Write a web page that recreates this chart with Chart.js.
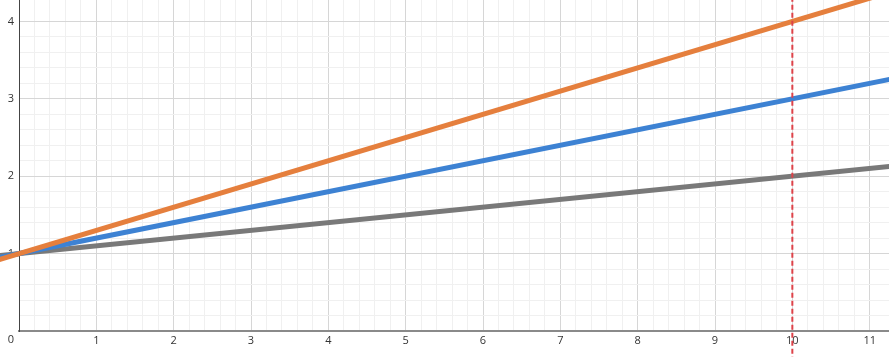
<!DOCTYPE html>
<html>
<head>
<meta charset="utf-8">
<script src="https://cdn.jsdelivr.net/npm/chart.js@4/dist/chart.umd.min.js"></script>
<style>
  html, body { margin: 0; padding: 0; background: #fff; }
  #wrap { width: 889px; height: 357px; position: relative; }
</style>
</head>
<body>
<div id="wrap"><canvas id="grafico"></canvas></div>
<script>
// --- datos ---
const lineaX = [-0.3, 11.3];
const naranjaY = [0.91, 4.39];
const azulY = [0.94, 3.26];
const grisY = [0.97, 2.13];

const marcaX = [10, 10];
const marcaY = [-0.5, 4.5];

const ejeX = { min: 0, max: 11.25, paso: 0.2 };
const ejeY = { min: 0, max: 4.277, paso: 0.2 };

const puntos = (xs, ys) => xs.map((x, i) => ({ x: x, y: ys[i] }));

const esEntero = v => Math.abs(v - Math.round(v)) < 1e-6;
const esMenor = v => Math.abs(v / 0.2 - Math.round(v / 0.2)) < 1e-6;

function colorGrilla(c) {
    const v = c.tick.value;
    if (esEntero(v)) return '#d6d6d6';
    if (esMenor(v)) return '#f0f0f0';
    return 'rgba(0,0,0,0)';
}

// sin relleno extra alrededor del area del grafico
function sinRelleno(s) {
    s.paddingTop = 0;
    s.paddingBottom = 0;
    s.paddingLeft = 0;
    s.paddingRight = 0;
}

// etiqueta del origen (esquina)
const origen = {
    id: 'origen',
    afterDraw(chart) {
        const ctx = chart.ctx;
        ctx.save();
        ctx.font = '11px "Open Sans", sans-serif';
        ctx.fillStyle = '#333';
        ctx.textAlign = 'center';
        ctx.textBaseline = 'middle';
        ctx.fillText('0', 11, 340);
        ctx.restore();
    }
};

const fondo = {
    id: 'fondo',
    beforeDraw(chart) {
        const ctx = chart.ctx;
        ctx.save();
        ctx.fillStyle = '#fff';
        ctx.fillRect(0, 0, chart.width, chart.height);
        ctx.restore();
    }
};

const comun = { showLine: true, pointRadius: 0, tension: 0, clip: false, borderCapStyle: 'butt' };

new Chart(document.getElementById('grafico'), {
    type: 'scatter',
    data: {
        datasets: [
            { ...comun, data: puntos(marcaX, marcaY), borderColor: '#de4249', borderWidth: 2, borderDash: [5, 3] },
            { ...comun, data: puntos(lineaX, naranjaY), borderColor: '#e57f3d', borderWidth: 5 },
            { ...comun, data: puntos(lineaX, azulY), borderColor: '#3d82d3', borderWidth: 5 },
            { ...comun, data: puntos(lineaX, grisY), borderColor: '#797979', borderWidth: 5 }
        ]
    },
    options: {
        responsive: true,
        maintainAspectRatio: false,
        animation: false,
        layout: { padding: 0 },
        plugins: { legend: { display: false }, tooltip: { enabled: false } },
        scales: {
            x: {
                type: 'linear',
                min: ejeX.min,
                max: ejeX.max,
                afterFit: s => { s.height = 26; sinRelleno(s); },
                grid: { color: colorGrilla, drawTicks: false, lineWidth: 1 },
                border: { color: '#8a8a8a', width: 2 },
                ticks: {
                    stepSize: ejeX.paso,
                    autoSkip: false,
                    maxRotation: 0,
                    padding: 3,
                    color: '#333',
                    font: { family: '"Open Sans", sans-serif', size: 11 },
                    callback: v => (esEntero(v) && Math.round(v) !== 0) ? String(Math.round(v)) : ''
                }
            },
            y: {
                type: 'linear',
                min: ejeY.min,
                max: ejeY.max,
                afterFit: s => { s.width = 19; sinRelleno(s); },
                grid: { color: colorGrilla, drawTicks: false, lineWidth: 1 },
                border: { color: '#444', width: 1 },
                ticks: {
                    stepSize: ejeY.paso,
                    autoSkip: false,
                    padding: 5,
                    color: '#333',
                    font: { family: '"Open Sans", sans-serif', size: 11 },
                    callback: v => (esEntero(v) && Math.round(v) !== 0) ? String(Math.round(v)) : ''
                }
            }
        }
    },
    plugins: [fondo, origen]
});
</script>
</body>
</html>
